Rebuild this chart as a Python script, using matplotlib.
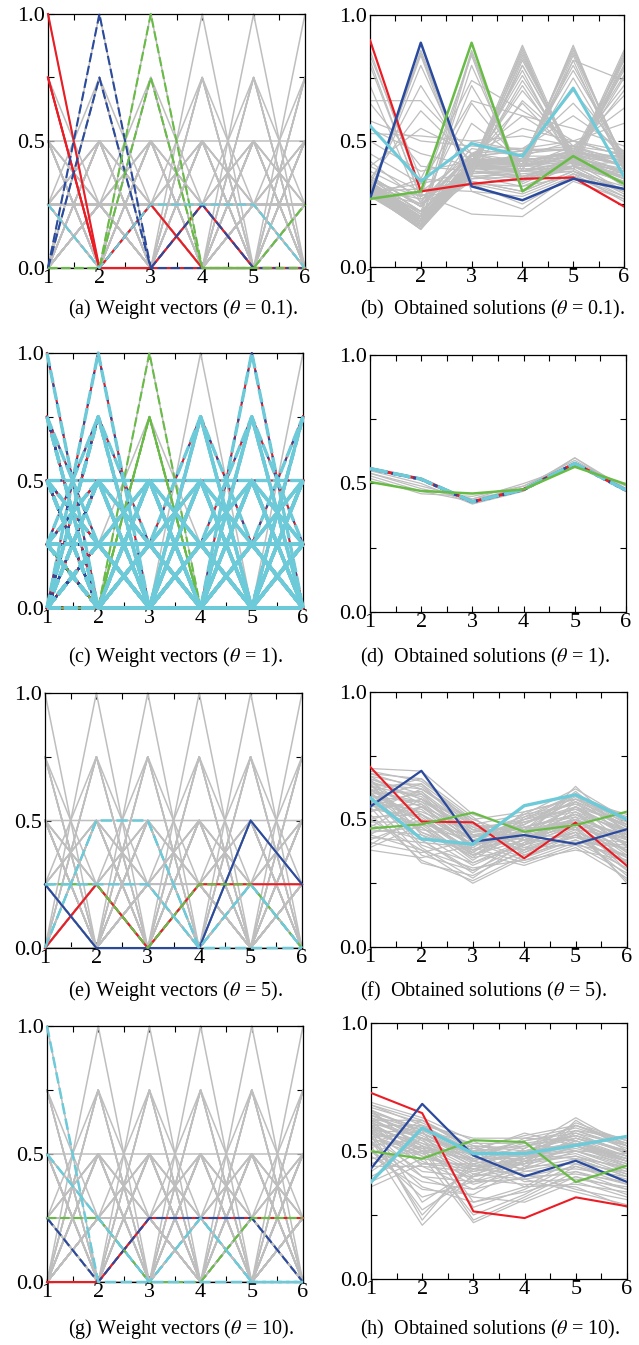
import matplotlib.pyplot as plt
from matplotlib.ticker import MultipleLocator, FormatStrFormatter

plt.rcParams['font.family'] = ['Liberation Serif', 'DejaVu Serif']
plt.rcParams['mathtext.fontset'] = 'stix'

objectives = [1, 2, 3, 4, 5, 6]

# simplex-lattice weight vectors (H = 4), each digit counts quarters
weight_codes = """
400000 310000 301000 300100 300010 300001
220000 202000 200200 200020 200002
211000 210100 210010 210001 201100 201010 201001 200110 200101 200011
130000 103000 100300 100030 100003
121000 120100 120010 120001 112000 102100 102010 102001
110200 101200 100210 100201 110020 101020 100120 100021
110002 101002 100102 100012
111100 111010 111001 110110 110101 110011 101110 101101 101011 100111
040000 031000 030100 030010 030001
022000 020200 020020 020002 021100 021010 021001 020110 020101 020011
013000 010300 010030 010003 012100 012010 012001 011200 010210 010201
011020 010120 010021 011002 010102 010012 011110 011101 011011 010111
004000 003100 003010 003001 002200 002020 002002 002110 002101 002011
001300 001030 001003 001210 001201 001120 001021 001102 001012 001111
000400 000040 000004 000310 000301 000130 000031 000103 000013
000220 000202 000022 000211 000121 000112
""".split()

# weight vectors assigned to the four highlighted solutions
wa_red = ["400000", "301000", "300100"]
wa_blue = ["040000", "030100"]
wa_green = ["004000", "003001"]
wa_cyan = ["101110"]

wc_gray_only = ["000400", "000004", "013000", "003100"]
wc_green = ["004000", "103000", "003010", "003001"]
wc_shared = [c for c in weight_codes if c not in wc_gray_only + wc_green]

we_red = ["010111"]
we_blue = ["100021"]
we_green = ["110110"]
we_cyan = ["022000", "111010"]

wg_red = ["001111"]
wg_blue = ["101110"]
wg_green = ["110011"]
wg_cyan = ["400000", "210100"]

# obtained solutions, theta = 0.1
sb_red = [0.90, 0.30, 0.33, 0.35, 0.355, 0.24]
sb_blue = [0.27, 0.89, 0.32, 0.265, 0.35, 0.31]
sb_green = [0.27, 0.30, 0.89, 0.30, 0.44, 0.33]
sb_cyan = [0.56, 0.34, 0.49, 0.44, 0.71, 0.36]
sb_gray = [
    [0.30, 0.22, 0.40, 0.38, 0.42, 0.36], [0.33, 0.18, 0.42, 0.40, 0.44, 0.38],
    [0.28, 0.16, 0.38, 0.36, 0.40, 0.34], [0.35, 0.25, 0.45, 0.42, 0.46, 0.40],
    [0.38, 0.28, 0.36, 0.34, 0.42, 0.33], [0.40, 0.30, 0.44, 0.40, 0.48, 0.42],
    [0.32, 0.20, 0.34, 0.30, 0.38, 0.30], [0.29, 0.15, 0.40, 0.42, 0.45, 0.44],
    [0.45, 0.33, 0.38, 0.35, 0.40, 0.30], [0.42, 0.26, 0.47, 0.44, 0.50, 0.46],
    [0.36, 0.24, 0.50, 0.46, 0.47, 0.40], [0.31, 0.27, 0.33, 0.25, 0.36, 0.28],
    [0.27, 0.29, 0.21, 0.20, 0.34, 0.27], [0.30, 0.31, 0.30, 0.23, 0.37, 0.26],
    [0.50, 0.38, 0.42, 0.40, 0.43, 0.35], [0.55, 0.45, 0.40, 0.38, 0.45, 0.32],
    [0.65, 0.40, 0.38, 0.36, 0.42, 0.30], [0.66, 0.66, 0.45, 0.40, 0.45, 0.35],
    [0.53, 0.52, 0.50, 0.52, 0.48, 0.40], [0.58, 0.50, 0.48, 0.47, 0.46, 0.42],
    [0.86, 0.30, 0.35, 0.36, 0.38, 0.28], [0.80, 0.28, 0.37, 0.38, 0.40, 0.30],
    [0.72, 0.25, 0.35, 0.38, 0.42, 0.33], [0.84, 0.35, 0.33, 0.32, 0.36, 0.27],
    [0.28, 0.86, 0.34, 0.30, 0.38, 0.32], [0.30, 0.80, 0.36, 0.32, 0.40, 0.34],
    [0.33, 0.72, 0.40, 0.34, 0.40, 0.36], [0.35, 0.62, 0.42, 0.38, 0.42, 0.38],
    [0.29, 0.84, 0.30, 0.28, 0.36, 0.30], [0.40, 0.55, 0.45, 0.40, 0.44, 0.37],
    [0.28, 0.20, 0.86, 0.33, 0.42, 0.35], [0.30, 0.18, 0.80, 0.35, 0.44, 0.37],
    [0.32, 0.22, 0.72, 0.38, 0.45, 0.38], [0.30, 0.25, 0.65, 0.40, 0.46, 0.40],
    [0.34, 0.28, 0.84, 0.30, 0.42, 0.34], [0.31, 0.19, 0.57, 0.42, 0.46, 0.42],
    [0.30, 0.17, 0.38, 0.87, 0.40, 0.36], [0.32, 0.18, 0.40, 0.85, 0.42, 0.38],
    [0.29, 0.16, 0.36, 0.82, 0.45, 0.40], [0.33, 0.20, 0.42, 0.78, 0.40, 0.42],
    [0.31, 0.19, 0.39, 0.74, 0.44, 0.44], [0.35, 0.22, 0.41, 0.70, 0.46, 0.40],
    [0.30, 0.15, 0.37, 0.66, 0.48, 0.45], [0.36, 0.24, 0.44, 0.60, 0.47, 0.43],
    [0.34, 0.21, 0.45, 0.55, 0.50, 0.44], [0.30, 0.16, 0.40, 0.40, 0.88, 0.40],
    [0.32, 0.18, 0.42, 0.42, 0.85, 0.42], [0.29, 0.15, 0.38, 0.38, 0.82, 0.38],
    [0.33, 0.20, 0.41, 0.44, 0.78, 0.44], [0.31, 0.17, 0.43, 0.41, 0.75, 0.41],
    [0.35, 0.22, 0.40, 0.45, 0.70, 0.45], [0.34, 0.19, 0.44, 0.46, 0.65, 0.43],
    [0.36, 0.24, 0.45, 0.47, 0.60, 0.46], [0.30, 0.16, 0.40, 0.40, 0.40, 0.85],
    [0.31, 0.18, 0.41, 0.42, 0.42, 0.83], [0.29, 0.15, 0.39, 0.38, 0.38, 0.80],
    [0.33, 0.20, 0.42, 0.44, 0.44, 0.76], [0.32, 0.17, 0.43, 0.41, 0.46, 0.72],
    [0.35, 0.22, 0.40, 0.45, 0.47, 0.68], [0.34, 0.19, 0.44, 0.46, 0.48, 0.63],
    [0.36, 0.24, 0.45, 0.47, 0.50, 0.57], [0.31, 0.18, 0.38, 0.80, 0.45, 0.82],
    [0.30, 0.17, 0.40, 0.72, 0.42, 0.75], [0.33, 0.20, 0.42, 0.65, 0.44, 0.70],
    [0.30, 0.33, 0.66, 0.60, 0.55, 0.48], [0.28, 0.35, 0.74, 0.62, 0.50, 0.44],
    [0.31, 0.17, 0.39, 0.86, 0.41, 0.37], [0.30, 0.16, 0.38, 0.84, 0.43, 0.39],
    [0.32, 0.19, 0.40, 0.80, 0.44, 0.41], [0.31, 0.17, 0.41, 0.41, 0.87, 0.41],
    [0.30, 0.16, 0.39, 0.39, 0.84, 0.39], [0.32, 0.19, 0.42, 0.43, 0.80, 0.43],
    [0.31, 0.17, 0.40, 0.41, 0.41, 0.84], [0.30, 0.16, 0.40, 0.39, 0.39, 0.82],
    [0.32, 0.19, 0.41, 0.43, 0.43, 0.78], [0.30, 0.17, 0.39, 0.83, 0.44, 0.80],
    [0.29, 0.16, 0.85, 0.34, 0.43, 0.36], [0.29, 0.85, 0.33, 0.29, 0.37, 0.31],
    [0.31, 0.18, 0.40, 0.88, 0.42, 0.38], [0.30, 0.17, 0.41, 0.42, 0.86, 0.42],
    [0.29, 0.16, 0.39, 0.40, 0.42, 0.86], [0.33, 0.21, 0.42, 0.76, 0.43, 0.79],
    [0.32, 0.19, 0.40, 0.43, 0.82, 0.74], [0.82, 0.27, 0.36, 0.37, 0.39, 0.29],
]

# obtained solutions, theta = 1
sd_red = [0.558, 0.517, 0.429, 0.477, 0.578, 0.474]
sd_blue = [0.557, 0.516, 0.428, 0.476, 0.577, 0.473]
sd_green = [0.506, 0.471, 0.461, 0.477, 0.565, 0.497]
sd_cyan = [0.558, 0.517, 0.429, 0.477, 0.578, 0.474]
sd_gray = [
    [0.54, 0.49, 0.44, 0.48, 0.60, 0.48], [0.53, 0.47, 0.43, 0.49, 0.59, 0.48],
    [0.52, 0.46, 0.45, 0.49, 0.58, 0.49], [0.55, 0.50, 0.42, 0.47, 0.60, 0.47],
    [0.54, 0.48, 0.44, 0.50, 0.57, 0.48],
]

# obtained solutions, theta = 5
sf_red = [0.707, 0.492, 0.489, 0.348, 0.488, 0.318]
sf_blue = [0.55, 0.691, 0.413, 0.439, 0.404, 0.462]
sf_green = [0.465, 0.481, 0.527, 0.452, 0.478, 0.531]
sf_cyan = [0.585, 0.424, 0.403, 0.554, 0.597, 0.50]
sf_gray = [
    [0.68, 0.62, 0.48, 0.45, 0.50, 0.40], [0.65, 0.58, 0.45, 0.47, 0.52, 0.42],
    [0.62, 0.55, 0.42, 0.44, 0.55, 0.45], [0.60, 0.52, 0.40, 0.46, 0.58, 0.47],
    [0.58, 0.50, 0.38, 0.48, 0.60, 0.48], [0.66, 0.60, 0.46, 0.42, 0.48, 0.38],
    [0.64, 0.45, 0.36, 0.44, 0.52, 0.40], [0.61, 0.40, 0.33, 0.42, 0.50, 0.37],
    [0.57, 0.36, 0.30, 0.40, 0.48, 0.35], [0.55, 0.33, 0.28, 0.38, 0.46, 0.33],
    [0.52, 0.34, 0.26, 0.36, 0.45, 0.30], [0.50, 0.38, 0.25, 0.35, 0.44, 0.28],
    [0.48, 0.42, 0.30, 0.37, 0.47, 0.32], [0.45, 0.47, 0.33, 0.40, 0.50, 0.36],
    [0.42, 0.50, 0.36, 0.42, 0.53, 0.40], [0.40, 0.52, 0.40, 0.45, 0.55, 0.43],
    [0.39, 0.48, 0.44, 0.48, 0.57, 0.46], [0.44, 0.55, 0.46, 0.50, 0.60, 0.49],
    [0.47, 0.58, 0.48, 0.52, 0.62, 0.50], [0.53, 0.62, 0.50, 0.53, 0.58, 0.52],
    [0.70, 0.69, 0.52, 0.46, 0.49, 0.44], [0.69, 0.65, 0.50, 0.43, 0.47, 0.41],
    [0.67, 0.63, 0.47, 0.40, 0.45, 0.38], [0.63, 0.64, 0.44, 0.38, 0.43, 0.36],
    [0.60, 0.61, 0.42, 0.35, 0.42, 0.34], [0.59, 0.57, 0.41, 0.34, 0.41, 0.31],
    [0.56, 0.54, 0.39, 0.33, 0.40, 0.29], [0.54, 0.51, 0.37, 0.32, 0.39, 0.27],
    [0.62, 0.48, 0.35, 0.39, 0.45, 0.26], [0.66, 0.44, 0.32, 0.41, 0.47, 0.25],
    [0.64, 0.42, 0.29, 0.43, 0.49, 0.30], [0.59, 0.39, 0.27, 0.41, 0.51, 0.33],
    [0.56, 0.46, 0.43, 0.49, 0.54, 0.44], [0.58, 0.53, 0.45, 0.51, 0.56, 0.47],
    [0.61, 0.57, 0.47, 0.49, 0.53, 0.45], [0.63, 0.59, 0.43, 0.47, 0.51, 0.43],
    [0.57, 0.60, 0.41, 0.45, 0.49, 0.41], [0.55, 0.56, 0.38, 0.44, 0.48, 0.42],
    [0.51, 0.52, 0.36, 0.46, 0.50, 0.44], [0.49, 0.49, 0.34, 0.47, 0.52, 0.46],
    [0.46, 0.44, 0.37, 0.49, 0.55, 0.48], [0.43, 0.41, 0.39, 0.50, 0.57, 0.49],
    [0.41, 0.37, 0.42, 0.48, 0.59, 0.47], [0.38, 0.35, 0.40, 0.46, 0.61, 0.45],
    [0.60, 0.45, 0.38, 0.43, 0.63, 0.44], [0.62, 0.50, 0.40, 0.44, 0.60, 0.42],
    [0.65, 0.52, 0.42, 0.40, 0.57, 0.39], [0.67, 0.56, 0.44, 0.38, 0.55, 0.37],
    [0.64, 0.62, 0.49, 0.37, 0.44, 0.35], [0.61, 0.66, 0.51, 0.36, 0.42, 0.33],
    [0.58, 0.64, 0.49, 0.39, 0.40, 0.36], [0.55, 0.61, 0.46, 0.42, 0.41, 0.39],
    [0.53, 0.58, 0.44, 0.44, 0.43, 0.41], [0.50, 0.55, 0.42, 0.47, 0.46, 0.43],
    [0.66, 0.58, 0.43, 0.50, 0.54, 0.46], [0.63, 0.55, 0.40, 0.52, 0.56, 0.48],
    [0.60, 0.50, 0.37, 0.53, 0.58, 0.50], [0.57, 0.47, 0.35, 0.51, 0.60, 0.51],
    [0.68, 0.66, 0.48, 0.42, 0.41, 0.40], [0.44, 0.38, 0.31, 0.34, 0.38, 0.34],
]

# obtained solutions, theta = 10
sh_red = [0.727, 0.648, 0.264, 0.238, 0.319, 0.284]
sh_blue = [0.431, 0.684, 0.483, 0.401, 0.462, 0.379]
sh_green = [0.499, 0.47, 0.542, 0.535, 0.379, 0.443]
sh_cyan = [0.379, 0.59, 0.49, 0.49, 0.522, 0.557]
sh_gray = [
    [0.68, 0.60, 0.50, 0.52, 0.55, 0.50], [0.66, 0.58, 0.48, 0.54, 0.57, 0.52],
    [0.64, 0.56, 0.46, 0.55, 0.59, 0.53], [0.62, 0.62, 0.52, 0.50, 0.53, 0.48],
    [0.60, 0.60, 0.49, 0.48, 0.51, 0.46], [0.58, 0.57, 0.47, 0.50, 0.56, 0.49],
    [0.65, 0.54, 0.44, 0.47, 0.54, 0.47], [0.63, 0.52, 0.42, 0.45, 0.52, 0.45],
    [0.61, 0.50, 0.40, 0.43, 0.50, 0.43], [0.59, 0.48, 0.43, 0.46, 0.55, 0.50],
    [0.57, 0.45, 0.45, 0.49, 0.58, 0.51], [0.55, 0.42, 0.40, 0.51, 0.60, 0.52],
    [0.53, 0.40, 0.38, 0.48, 0.57, 0.49], [0.50, 0.38, 0.35, 0.46, 0.54, 0.46],
    [0.48, 0.35, 0.33, 0.44, 0.52, 0.44], [0.60, 0.30, 0.43, 0.47, 0.50, 0.44],
    [0.56, 0.25, 0.45, 0.49, 0.52, 0.46], [0.52, 0.21, 0.41, 0.46, 0.49, 0.42],
    [0.58, 0.23, 0.47, 0.50, 0.53, 0.47], [0.54, 0.27, 0.40, 0.45, 0.48, 0.41],
    [0.50, 0.32, 0.38, 0.43, 0.47, 0.40], [0.62, 0.55, 0.28, 0.35, 0.45, 0.38],
    [0.60, 0.52, 0.23, 0.32, 0.42, 0.35], [0.58, 0.50, 0.25, 0.33, 0.44, 0.37],
    [0.55, 0.48, 0.22, 0.31, 0.40, 0.33], [0.64, 0.58, 0.30, 0.36, 0.47, 0.40],
    [0.45, 0.52, 0.46, 0.52, 0.56, 0.50], [0.42, 0.55, 0.49, 0.54, 0.58, 0.52],
    [0.40, 0.50, 0.51, 0.56, 0.60, 0.54], [0.38, 0.47, 0.44, 0.50, 0.55, 0.48],
    [0.44, 0.44, 0.42, 0.47, 0.53, 0.46], [0.47, 0.50, 0.47, 0.48, 0.50, 0.45],
    [0.52, 0.55, 0.50, 0.46, 0.48, 0.43], [0.69, 0.63, 0.54, 0.44, 0.45, 0.42],
    [0.67, 0.61, 0.52, 0.42, 0.43, 0.40], [0.65, 0.59, 0.50, 0.40, 0.41, 0.38],
    [0.63, 0.57, 0.48, 0.38, 0.39, 0.36], [0.61, 0.55, 0.45, 0.36, 0.37, 0.34],
    [0.59, 0.53, 0.43, 0.41, 0.35, 0.31], [0.57, 0.51, 0.41, 0.39, 0.34, 0.29],
    [0.56, 0.49, 0.39, 0.37, 0.36, 0.28], [0.66, 0.57, 0.46, 0.43, 0.62, 0.50],
    [0.64, 0.55, 0.44, 0.45, 0.60, 0.53], [0.62, 0.53, 0.47, 0.47, 0.58, 0.55],
    [0.60, 0.51, 0.49, 0.49, 0.61, 0.54], [0.58, 0.49, 0.52, 0.51, 0.63, 0.52],
    [0.55, 0.58, 0.53, 0.53, 0.56, 0.50], [0.53, 0.60, 0.55, 0.55, 0.54, 0.48],
    [0.51, 0.62, 0.50, 0.57, 0.52, 0.47], [0.49, 0.57, 0.48, 0.53, 0.50, 0.49],
    [0.60, 0.46, 0.37, 0.42, 0.46, 0.41], [0.62, 0.44, 0.35, 0.40, 0.44, 0.39],
    [0.66, 0.50, 0.38, 0.39, 0.42, 0.37], [0.68, 0.62, 0.51, 0.49, 0.47, 0.44],
    [0.58, 0.40, 0.32, 0.30, 0.38, 0.32], [0.54, 0.36, 0.30, 0.34, 0.40, 0.35],
    [0.36, 0.45, 0.43, 0.48, 0.52, 0.47],
]

captions = [
    "(a) Weight vectors ($\\theta$ = 0.1).", "(b)  Obtained solutions ($\\theta$ = 0.1).",
    "(c) Weight vectors ($\\theta$ = 1).", "(d)  Obtained solutions ($\\theta$ = 1).",
    "(e) Weight vectors ($\\theta$ = 5).", "(f)  Obtained solutions ($\\theta$ = 5).",
    "(g) Weight vectors ($\\theta$ = 10).", "(h)  Obtained solutions ($\\theta$ = 10).",
]

RED = '#EC1C24'
BLUE = '#2A4A9E'
GREEN = '#68BC45'
CYAN = '#6CCAD9'
GRAY = '#BEBEBE'

W, H = 639, 1345
fig = plt.figure(figsize=(W / 100, H / 100), dpi=100)


def add_axes(left, top, right, bottom):
    return fig.add_axes([left / W, 1 - bottom / H, (right - left) / W, (bottom - top) / H])


def style_axes(ax):
    ax.set_xlim(1, 6)
    ax.set_ylim(0, 1)
    ax.xaxis.set_major_locator(MultipleLocator(1))
    ax.xaxis.set_minor_locator(MultipleLocator(0.5))
    ax.yaxis.set_major_locator(MultipleLocator(0.5))
    ax.yaxis.set_minor_locator(MultipleLocator(0.25))
    ax.yaxis.set_major_formatter(FormatStrFormatter('%.1f'))
    ax.tick_params(which='both', direction='in', top=True, right=True,
                   length=4, width=0.8, labelsize=16)
    ax.tick_params(axis='x', pad=0.5)
    ax.tick_params(axis='y', pad=2.5)
    for s in ax.spines.values():
        s.set_linewidth(0.9)


def codes_to_vec(code):
    return [int(c) / 4 for c in code]


def draw_weights(ax, layers):
    for code in weight_codes:
        ax.plot(objectives, codes_to_vec(code), color=GRAY, lw=1.1,
                clip_on=False, zorder=2)
    for codes, color, lw, dashes in layers:
        for code in codes:
            kw = dict(color=color, lw=lw, clip_on=False, zorder=3)
            if dashes is not None:
                kw['dashes'] = dashes
            ax.plot(objectives, codes_to_vec(code), **kw)


def draw_solutions(ax, gray, layers):
    for row in gray:
        ax.plot(objectives, row, color=GRAY, lw=0.9, zorder=2)
    for vals, color, lw, dashes in layers:
        kw = dict(color=color, lw=lw, zorder=3)
        if dashes is not None:
            kw['dashes'] = dashes
        ax.plot(objectives, vals, **kw)


dash = (4.5, 1.8)

# row 1: theta = 0.1
ax = add_axes(48, 14, 305, 268)
draw_weights(ax, [(wa_red, RED, 1.5, None), (wa_blue, BLUE, 1.5, dash),
                  (wa_green, GREEN, 1.5, dash), (wa_cyan, CYAN, 1.5, dash)])
style_axes(ax)
ax = add_axes(370, 15, 624, 267)
draw_solutions(ax, sb_gray, [(sb_red, RED, 1.6, None), (sb_blue, BLUE, 1.8, None),
                             (sb_green, GREEN, 1.8, None), (sb_cyan, CYAN, 2.2, None)])
style_axes(ax)

# row 2: theta = 1
ax = add_axes(47, 353, 303, 608)
draw_weights(ax, [(wc_shared, RED, 1.5, None), (wc_shared, BLUE, 1.5, (1.5, 1.5)),
                  (wc_green, GREEN, 1.5, dash), (wc_shared, CYAN, 2.4, (4, 1.2))])
style_axes(ax)
ax = add_axes(370, 355, 626, 612)
draw_solutions(ax, sd_gray, [(sd_red, RED, 2.2, None), (sd_blue, BLUE, 2.2, (1.2, 1.2)),
                             (sd_cyan, CYAN, 2.6, (5, 1.5)), (sd_green, GREEN, 1.8, None)])
style_axes(ax)

# row 3: theta = 5
ax = add_axes(45, 693, 302, 948)
draw_weights(ax, [(we_red, RED, 1.5, None), (we_blue, BLUE, 1.5, None),
                  (we_green, GREEN, 1.5, dash), (we_cyan, CYAN, 1.8, dash)])
style_axes(ax)
ax = add_axes(370, 692, 627, 947)
draw_solutions(ax, sf_gray, [(sf_red, RED, 1.5, None), (sf_blue, BLUE, 1.6, None),
                             (sf_green, GREEN, 1.6, None), (sf_cyan, CYAN, 2.4, None)])
style_axes(ax)

# row 4: theta = 10
ax = add_axes(47, 1026, 303, 1282)
draw_weights(ax, [(wg_red, RED, 1.5, None), (wg_blue, BLUE, 1.5, dash),
                  (wg_green, GREEN, 1.5, dash), (wg_cyan, CYAN, 1.8, dash)])
style_axes(ax)
ax = add_axes(371, 1023, 627, 1279)
draw_solutions(ax, sh_gray, [(sh_red, RED, 1.5, None), (sh_blue, BLUE, 1.6, None),
                             (sh_green, GREEN, 1.6, None), (sh_cyan, CYAN, 2.4, None)])
style_axes(ax)

caption_y = [309, 657, 991, 1329]
for i, text in enumerate(captions):
    x = 68 if i % 2 == 0 else 360
    fig.text(x / W, 1 - caption_y[i // 2] / H, text, ha='left', va='center', fontsize=14.5)

fig.savefig('out.png', dpi=100)
